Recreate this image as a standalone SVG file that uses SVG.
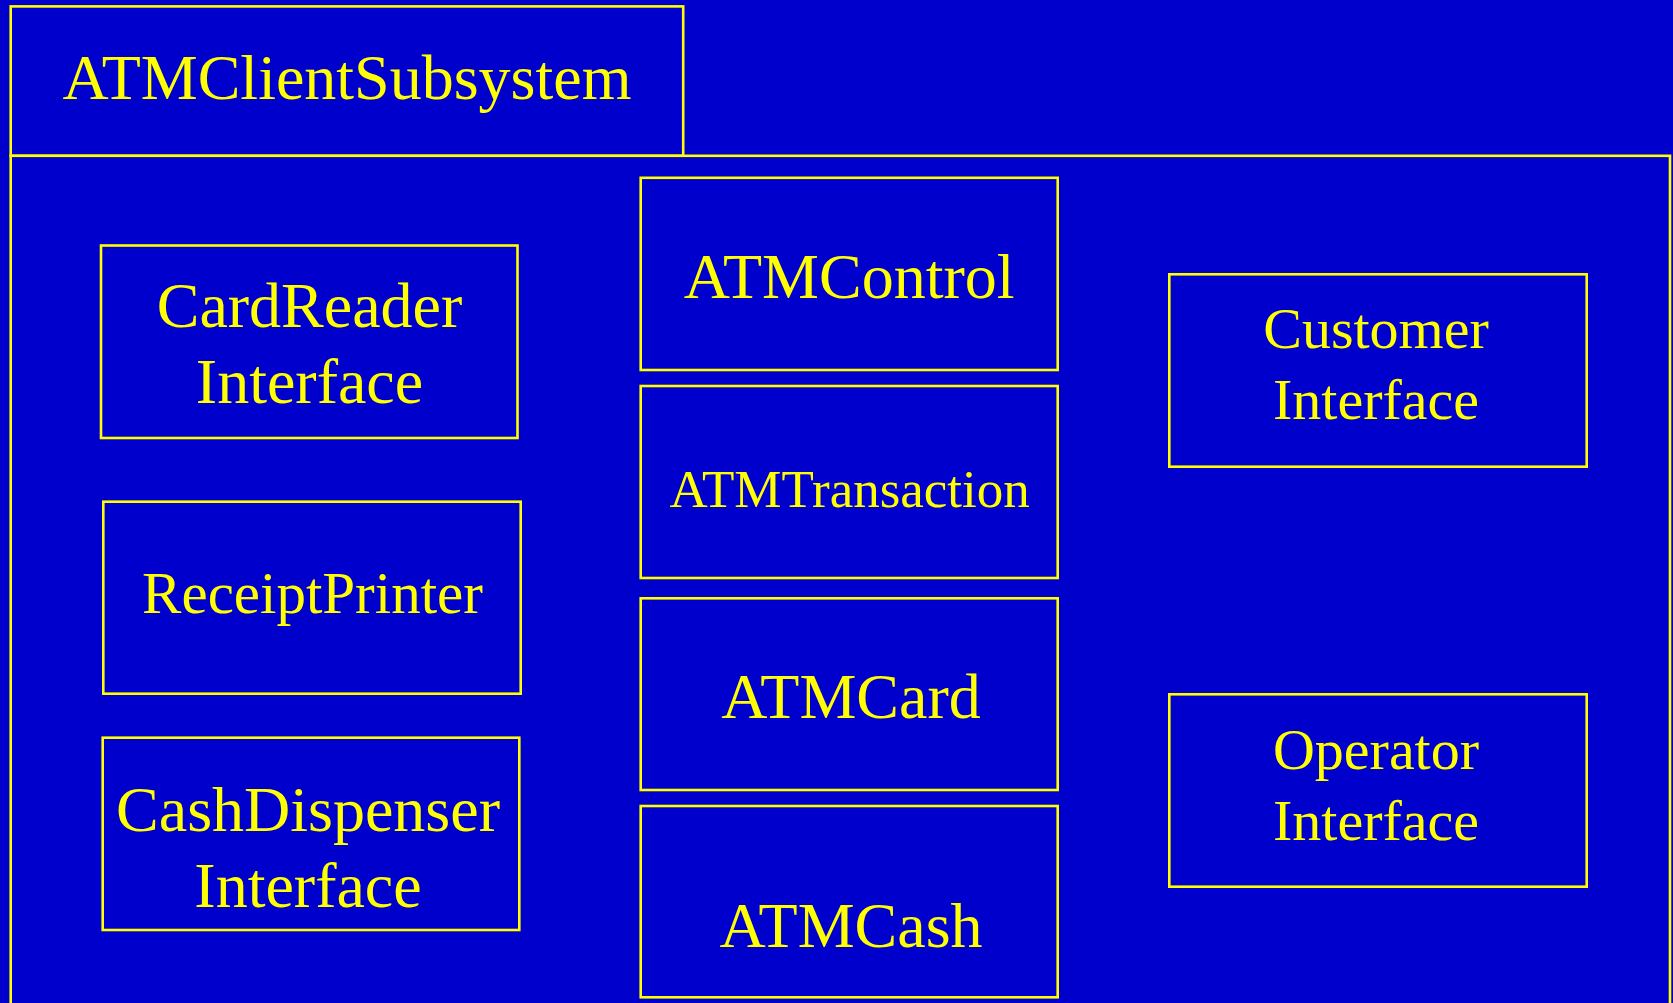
<svg xmlns="http://www.w3.org/2000/svg" width="1673" height="1003" viewBox="0 0 1673 1003">
<style>
.box{fill:#0000CC;stroke:#FFFF00;stroke-width:2.6}
.t{font-family:"Liberation Serif","Times New Roman",serif;fill:#FFFF00;text-anchor:middle;font-size:64px}
.s{font-size:53px}
.m{font-size:59px}
.c{font-size:58px}
</style>
<rect x="0" y="0" width="1673" height="1003" fill="#0000CC"/>
<g id="package">
<rect class="box" x="10.7" y="6.4" width="672.5" height="149.4"/>
<rect class="box" x="10.7" y="155.8" width="1659.3" height="860"/>
<text class="t" x="347" y="99">ATMClientSubsystem</text>
</g>
<g id="cardreader">
<rect class="box" x="101" y="245.5" width="416.5" height="192.5"/>
<text class="t" x="309.5" y="327">CardReader</text>
<text class="t" x="309.5" y="403">Interface</text>
</g>
<g id="receiptprinter">
<rect class="box" x="103.3" y="501.7" width="417.4" height="192"/>
<text class="t m" x="312.5" y="612.7">ReceiptPrinter</text>
</g>
<g id="cashdispenser">
<rect class="box" x="102.7" y="737.7" width="416.6" height="192.3"/>
<text class="t" x="308" y="830.7">CashDispenser</text>
<text class="t" x="308" y="906.7">Interface</text>
</g>
<g id="atmcontrol">
<rect class="box" x="640.7" y="177.8" width="417" height="192.2"/>
<text class="t" x="849.2" y="298">ATMControl</text>
</g>
<g id="atmtransaction">
<rect class="box" x="640.7" y="386" width="417" height="192"/>
<text class="t s" x="849.7" y="507">ATMTransaction</text>
</g>
<g id="atmcard">
<rect class="box" x="640.7" y="598.3" width="417" height="191.7"/>
<text class="t" x="851" y="718.3">ATMCard</text>
</g>
<g id="atmcash">
<rect class="box" x="640.7" y="806" width="417" height="191.3"/>
<text class="t" x="851" y="946.7">ATMCash</text>
</g>
<g id="customer">
<rect class="box" x="1169.3" y="274.3" width="417.4" height="192.4"/>
<text class="t c" x="1376" y="348.3">Customer</text>
<text class="t c" x="1376" y="419.3">Interface</text>
</g>
<g id="operator">
<rect class="box" x="1169.3" y="694.3" width="417.4" height="192.4"/>
<text class="t c" x="1376" y="769.3">Operator</text>
<text class="t c" x="1376" y="840">Interface</text>
</g>
<g id="connectors"></g>
</svg>
